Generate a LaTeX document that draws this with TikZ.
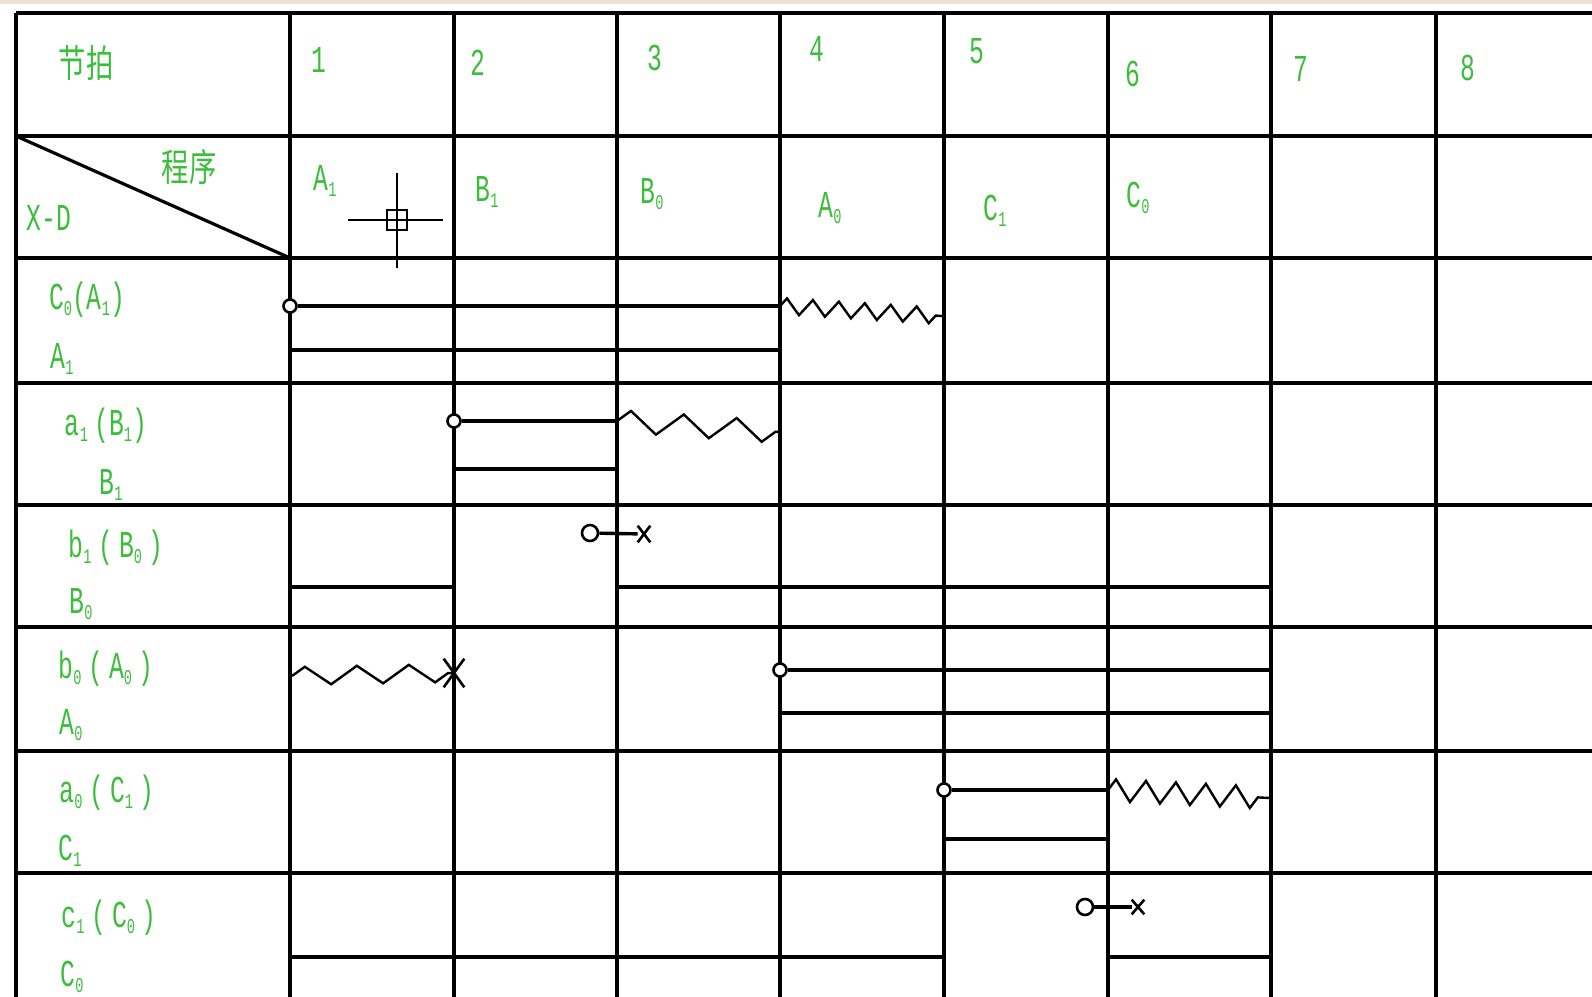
\documentclass[tikz,border=0pt]{standalone}
\usepackage{fontspec}
\setmainfont{Liberation Mono}[FakeStretch=0.65]
\newfontfamily\cjk{Noto Sans CJK SC}[FakeStretch=0.72]
\usetikzlibrary{decorations.pathmorphing,shapes.misc}

\definecolor{xdgreen}{RGB}{60,190,60}
\definecolor{topband}{RGB}{236,226,212}
\newcommand\sbx[1]{\raisebox{-0.3ex}{\fontsize{10.5}{10.5}\selectfont #1}}

\tikzset{
  gridline/.style={line width=1.6pt},
  steadyline/.style={line width=1.7pt},
  wavy/.style={line width=1.2pt, decorate},
  startpt/.style={circle, draw, fill=white, line width=1.3pt, minimum size=6.5pt, inner sep=0pt},
  endx/.style={cross out, draw, line width=1.3pt, minimum width=5pt, minimum height=7pt, inner sep=0pt},
  lbl/.style={text=xdgreen, font=\fontsize{19}{19}\selectfont, inner sep=0pt},
  cjklbl/.style={text=xdgreen, font=\cjk\fontsize{19}{19}\selectfont, inner sep=0pt}
}

\begin{document}
\begin{tikzpicture}[x=0.5pt, y=-0.5pt]
\useasboundingbox (0,0) rectangle (1592,997);
\fill[white] (0,0) rectangle (1592,997);
\fill[topband] (0,0) rectangle (1592,4);

% Grid
\foreach \x in {16,290,454,617,780,944,1108,1271,1436}
  \draw[gridline] (\x,13) -- (\x,997);
\foreach \y in {13,136,258,383,505,627,751,873}
  \draw[gridline] (16,\y) -- (1592,\y);
\draw[gridline] (16,136) -- (290,258);

% Header
\node[cjklbl] (beat) at (86,63) {节拍};
\node[cjklbl] (prog) at (189,167) {程序};
\node[lbl] (xd) at (49,218) {X-D};
\node[lbl] (n1) at (319,60) {1};
\node[lbl] (n2) at (478,63) {2};
\node[lbl] (n3) at (655,58) {3};
\node[lbl] (n4) at (817,49) {4};
\node[lbl] (n5) at (977,51) {5};
\node[lbl] (n6) at (1133,74) {6};
\node[lbl] (n7) at (1301,69) {7};
\node[lbl] (n8) at (1468,68) {8};

% Program steps
\node[lbl] (p1) at (325,181) {A\sbx{1}};
\node[lbl] (p2) at (487,192) {B\sbx{1}};
\node[lbl] (p3) at (652,194) {B\sbx{0}};
\node[lbl] (p4) at (830,208) {A\sbx{0}};
\node[lbl] (p5) at (995,211) {C\sbx{1}};
\node[lbl] (p6) at (1138,198) {C\sbx{0}};

% Cursor
\draw[line width=0.8pt] (348,220) -- (443,220);
\draw[line width=0.8pt] (397,173) -- (397,268);
\draw[line width=0.8pt] (387,210) rectangle (407,230);

% Row labels
\node[lbl] (r1) at (87,300) {C\sbx{0}(A\sbx{1})};
\node[lbl] (r1b) at (62,359) {A\sbx{1}};
\node[lbl] (r2) at (106,426) {a\sbx{1}\,(B\sbx{1})};
\node[lbl] (r2b) at (111,485) {B\sbx{1}};
\node[lbl] (r3) at (116,548) {b\sbx{1}\,(\,B\sbx{0}\,)};
\node[lbl] (r3b) at (81,604) {B\sbx{0}};
\node[lbl] (r4) at (106,669) {b\sbx{0}\,(\,A\sbx{0}\,)};
\node[lbl] (r4b) at (71,725) {A\sbx{0}};
\node[lbl] (r5) at (107,793) {a\sbx{0}\,(\,C\sbx{1}\,)};
\node[lbl] (r5b) at (70,851) {C\sbx{1}};
\node[lbl] (r6) at (109,918) {c\sbx{1}\,(\,C\sbx{0}\,)};
\node[lbl] (r6b) at (72,977) {C\sbx{0}};

% Row 1: C0(A1)
\coordinate (e1) at (780,306);
\draw[steadyline] (290,350) -- (780,350);
\draw[wavy, decoration={zigzag, segment length=13pt, amplitude=4pt}] (e1) -- (942,316);
\node[startpt] (s1) at (290,306) {};
\draw[steadyline] (s1) -- (e1);

% Row 2: a1(B1)
\coordinate (e2) at (617,421);
\draw[steadyline] (454,469) -- (617,469);
\draw[wavy, decoration={zigzag, segment length=26.5pt, amplitude=5.5pt}] (e2) -- (780,432);
\node[startpt] (s2) at (454,421) {};
\draw[steadyline] (s2) -- (e2);

% Row 3: b1(B0)
\draw[steadyline] (290,587) -- (454,587);
\draw[steadyline] (617,587) -- (1271,587);
\node[startpt, minimum size=8pt] (s3) at (590,533) {};
\node[endx] (x3) at (644,534) {};
\draw[steadyline] (s3) -- (x3);

% Row 4: b0(A0)
\node[endx, minimum width=9pt, minimum height=13pt] (x4) at (454,673) {};
\coordinate (w4) at (292,676);
\draw[wavy, decoration={zigzag, segment length=26pt, amplitude=4.5pt}] (w4) -- (x4.center);
\coordinate (e4) at (1271,670);
\draw[steadyline] (780,713) -- (1271,713);
\node[startpt] (s4) at (780,670) {};
\draw[steadyline] (s4) -- (e4);

% Row 5: a0(C1)
\coordinate (e5) at (1108,790);
\draw[steadyline] (944,839) -- (1108,839);
\draw[wavy, decoration={zigzag, segment length=15pt, amplitude=5.5pt}] (e5) -- (1270,798);
\node[startpt] (s5) at (944,790) {};
\draw[steadyline] (s5) -- (e5);

% Row 6: c1(C0)
\draw[steadyline] (290,957) -- (944,957);
\draw[steadyline] (1108,957) -- (1271,957);
\node[startpt, minimum size=8pt] (s6) at (1085,907) {};
\node[endx, minimum height=6pt] (x6) at (1138,907) {};
\draw[steadyline] (s6) -- (x6);

\end{tikzpicture}
\end{document}
